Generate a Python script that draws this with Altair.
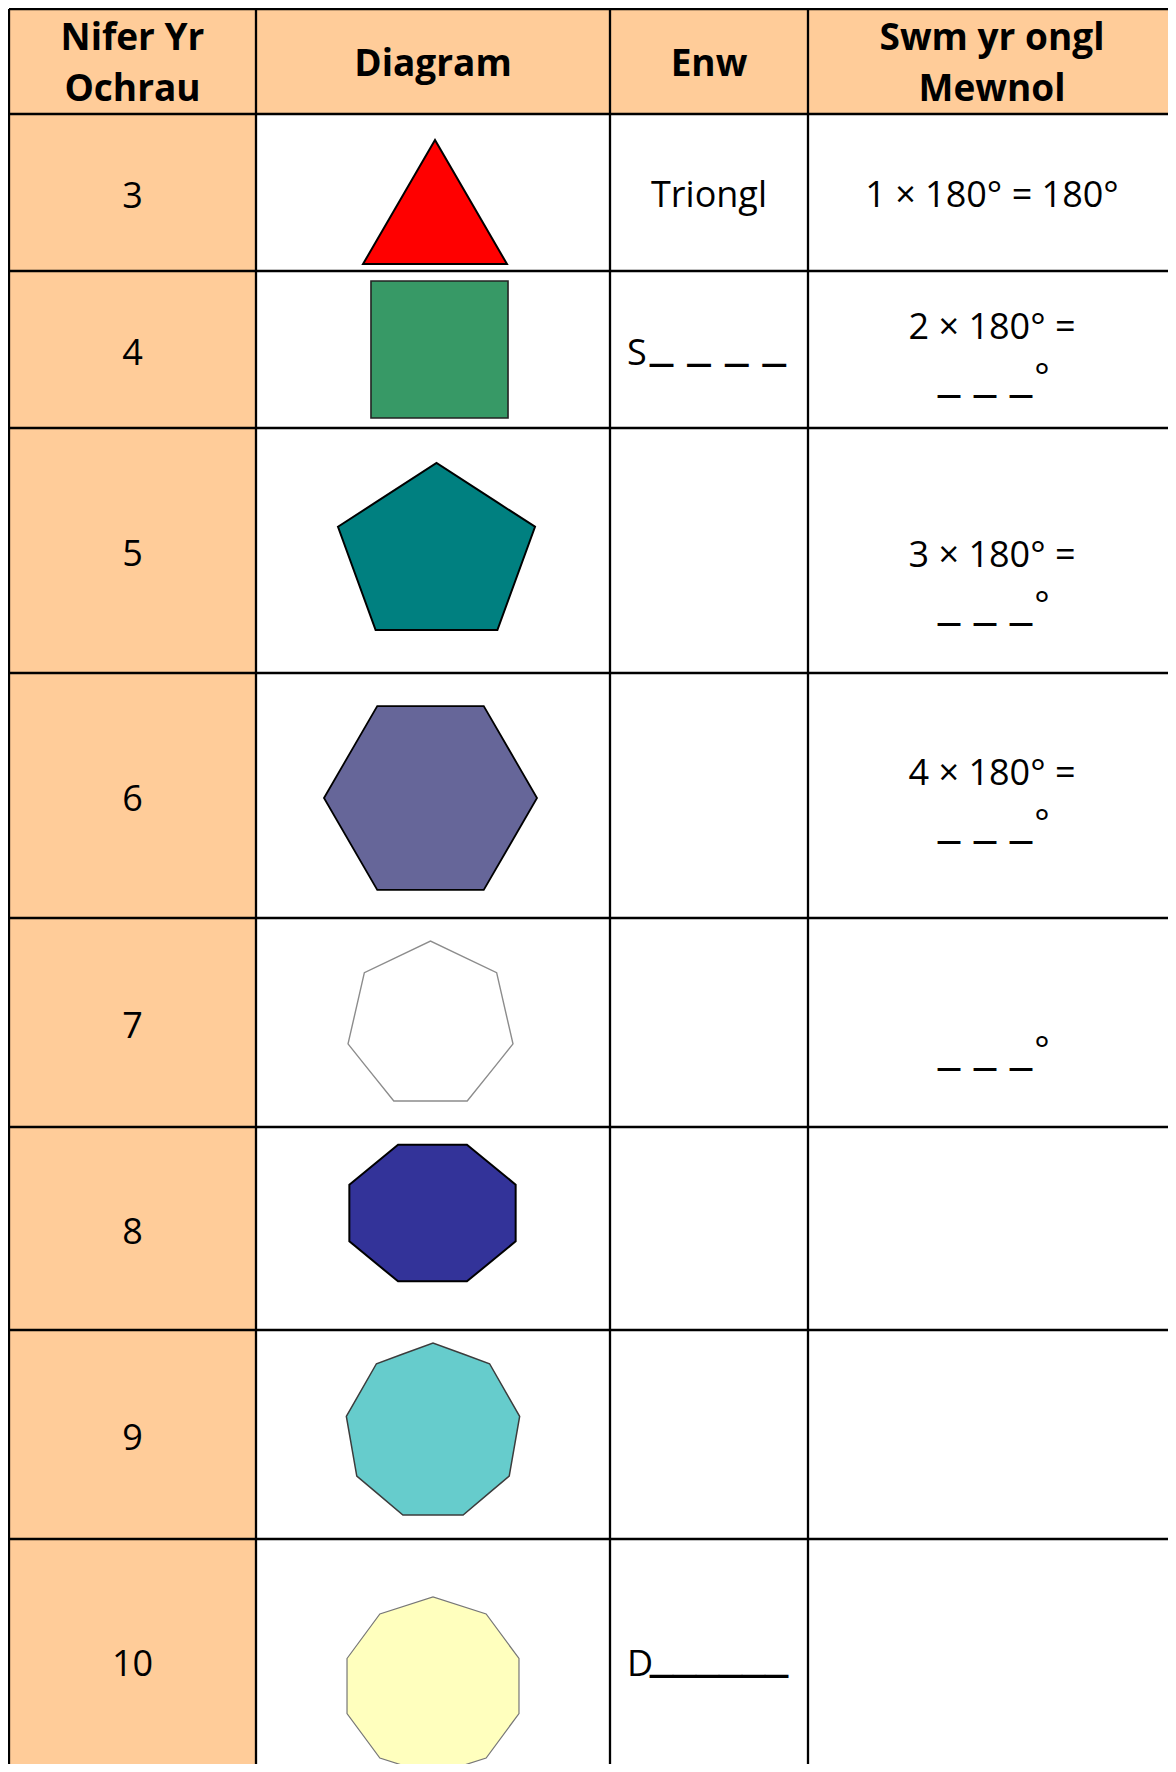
import math
import altair as alt
import pandas as pd

# ---------------- data ----------------
col_edges = [9, 256, 610, 808, 1168]
row_edges = [9, 114, 271, 428, 673, 918, 1127, 1330, 1539, 1764]

header_top = ["Nifer Yr", "Diagram", "Enw", "Swm yr ongl"]
header_bottom = ["Ochrau", "", "", "Mewnol"]

sides = [3, 4, 5, 6, 7, 8, 9, 10]
names = ["Triongl", "", "", "", "", "", "", ""]
name_initial = ["", "S", "", "", "", "", "", "D"]
name_blank = ["", "_ _ _ _", "", "", "", "", "", "______"]
sum_first = ["1 × 180° = 180°", "2 × 180° =", "3 × 180° =", "4 × 180° =", "", "", "", ""]
sum_blank = [False, True, True, True, True, False, False, False]

fills = ["#FF0000", "#379966", "#008080", "#666699", "#FFFFFF", "#333399", "#66CCCC", "#FFFFBE"]
strokes = ["#000000", "#222222", "#000000", "#000000", "#8C8C8C", "#000000", "#3C3C3C", "#777777"]

# ---------------- layout ----------------
PEACH = "#FFCC99"
FONT = "Open Sans"
# polygon geometry (centre, radii, start angle) per shape
geom = [
    (435.0, 222.7, 83.1, 82.7, -90),
    (439.5, 349.5, 96.9, 96.9, -135),
    (436.5, 555.3, 103.6, 92.3, -90),
    (430.5, 798.0, 106.5, 106.2, 0),
    (430.5, 1025.2, 84.6, 84.2, -90),
    (432.5, 1213.0, 90.0, 74.0, 22.5),
    (433.0, 1431.7, 88.0, 88.7, -90),
    (433.0, 1686.0, 90.4, 89.0, -90),
]
stroke_w = [2.0, 1.6, 2.0, 1.8, 1.4, 2.0, 1.5, 1.2]
sum_offset = [0, 0, 27, 0, 0, 0, 0, 0]

W, H = 1160, 1756
xs = alt.Scale(domain=[8, 8 + W], nice=False, zero=False)
ys = alt.Scale(domain=[8, 8 + H], nice=False, zero=False, reverse=True)


def X(f="x"):
    return alt.X(f"{f}:Q", scale=xs, axis=None)


def Y(f="y"):
    return alt.Y(f"{f}:Q", scale=ys, axis=None, stack=None)


col_mid = [(col_edges[i] + col_edges[i + 1]) / 2 for i in range(4)]
col_mid[3] = 992  # last column continues past the page edge
row_mid = [(row_edges[i] + row_edges[i + 1]) / 2 for i in range(len(row_edges) - 1)]
row_mid[-1] = 1661  # last row continues below the page

# backgrounds
bg = pd.DataFrame([
    dict(x=col_edges[0], x2=col_edges[-1], y=row_edges[0], y2=row_edges[1]),
    dict(x=col_edges[0], x2=col_edges[1], y=row_edges[1], y2=row_edges[-1]),
])
bg_layer = alt.Chart(bg).mark_rect(color=PEACH).encode(
    x=X(), x2="x2:Q", y=Y(), y2="y2:Q")

# polygons as areas between upper and lower chains
rows = []
for i, n in enumerate(sides):
    cx, cy, rx, ry, st = geom[i]
    verts = []
    for k in range(n):
        a = math.radians(st + 360.0 * k / n)
        verts.append((round(cx + rx * math.cos(a), 2), round(cy + ry * math.sin(a), 2)))
    ux = sorted(set(v[0] for v in verts))
    for x in ux:
        yv = []
        for k in range(n):
            (x1, y1), (x2, y2) = verts[k], verts[(k + 1) % n]
            if min(x1, x2) - 1e-6 <= x <= max(x1, x2) + 1e-6:
                if abs(x2 - x1) < 1e-6:
                    yv += [y1, y2]
                else:
                    yv.append(y1 + (y2 - y1) * (x - x1) / (x2 - x1))
        rows.append(dict(shape=f"s{n}", x=x, top=min(yv), bot=max(yv),
                         fill=fills[i], stroke=strokes[i], sw=stroke_w[i]))
poly = pd.DataFrame(rows)
poly_layer = alt.Chart(poly).mark_area(interpolate="linear", orient="vertical").encode(
    x=X(), y=Y("top"), y2="bot:Q",
    detail="shape:N",
    fill=alt.Fill("fill:N", scale=None),
    stroke=alt.Stroke("stroke:N", scale=None),
    strokeWidth=alt.StrokeWidth("sw:Q", scale=None),
)

# grid lines
lines = []
for y in row_edges[:-1]:
    lines.append(dict(x=col_edges[0], x2=col_edges[-1], y=y, y2=y))
for x in col_edges[:-1]:
    lines.append(dict(x=x, x2=x, y=row_edges[0], y2=row_edges[-1]))
grid_layer = alt.Chart(pd.DataFrame(lines)).mark_rule(color="black", strokeWidth=2.3).encode(
    x=X(), x2="x2:Q", y=Y(), y2="y2:Q")

# header text
hd = []
for i in range(4):
    if header_bottom[i]:
        hd.append(dict(x=col_mid[i], y=row_mid[0] - 25, t=header_top[i]))
        hd.append(dict(x=col_mid[i], y=row_mid[0] + 26, t=header_bottom[i]))
    else:
        hd.append(dict(x=col_mid[i], y=row_mid[0] + 1, t=header_top[i]))
head_layer = alt.Chart(pd.DataFrame(hd)).mark_text(
    font=FONT, fontSize=37, fontWeight="bold", baseline="middle", align="center", dy=2,
    color="black").encode(x=X(), y=Y(), text="t:N")

# body centred text
body = []
for r, n in enumerate(sides):
    m = row_mid[r + 1]
    body.append(dict(x=col_mid[0], y=m + 2, t=str(n)))
    if names[r]:
        body.append(dict(x=col_mid[2], y=m + 1, t=names[r]))
    if sum_first[r]:
        yy = m + 1 if not sum_blank[r] else m - 24 + sum_offset[r]
        body.append(dict(x=col_mid[3], y=yy, t=sum_first[r]))
body_layer = alt.Chart(pd.DataFrame(body)).mark_text(
    font=FONT, fontSize=36, baseline="middle", align="center", dy=2,
    color="black").encode(x=X(), y=Y(), text="t:N")

# left aligned initials in name column, followed by blanks
li, lb = [], []
for r in range(len(sides)):
    if name_initial[r]:
        li.append(dict(x=col_edges[2] + 17, y=row_mid[r + 1] + 2, t=name_initial[r]))
        lb.append(dict(x=col_edges[2] + 40, y=row_mid[r + 1] + 2, t=name_blank[r]))
init_layer = alt.Chart(pd.DataFrame(li)).mark_text(
    font=FONT, fontSize=36, baseline="middle", align="left", dy=2,
    color="black").encode(x=X(), y=Y(), text="t:N")
nblank_layer = alt.Chart(pd.DataFrame(lb)).mark_text(
    font="DejaVu Sans", fontSize=46, baseline="middle", align="left", dy=-10,
    color="black").encode(x=X(), y=Y(), text="t:N")

# answer blanks with degree sign
bl, dg = [], []
for r in range(len(sides)):
    if sum_blank[r]:
        m = row_mid[r + 1] + sum_offset[r]
        bl.append(dict(x=col_mid[3] - 7, y=m + 46, t="_ _ _"))
        dg.append(dict(x=col_mid[3] + 50, y=m + 18, t="°"))
blank_layer = alt.Chart(pd.DataFrame(bl)).mark_text(
    font="DejaVu Sans", fontSize=44, baseline="middle", align="center", dy=-22,
    color="black").encode(x=X(), y=Y(), text="t:N")
deg_layer = alt.Chart(pd.DataFrame(dg)).mark_text(
    font=FONT, fontSize=36, baseline="middle", align="center", dy=10,
    color="black").encode(x=X(), y=Y(), text="t:N")

chart = alt.layer(
    bg_layer, poly_layer, grid_layer, head_layer, body_layer, init_layer, nblank_layer,
    blank_layer, deg_layer
).properties(
    width=W, height=H, padding=0, background="white",
    autosize=alt.AutoSizeParams(type="none"),
).configure_view(stroke=None)

chart.save("out.html", embed_options={"renderer": "svg", "actions": False})
